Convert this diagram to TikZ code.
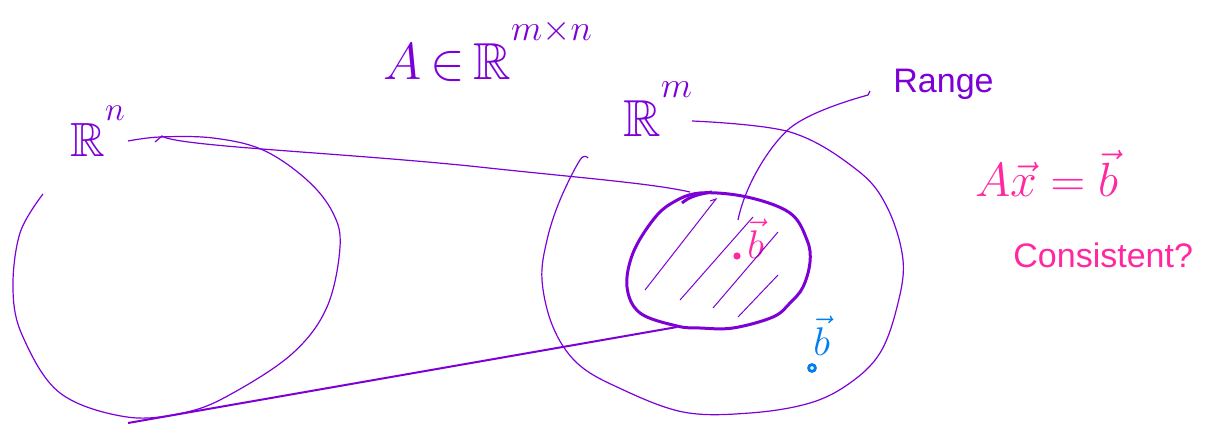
\documentclass[tikz,border=0pt]{standalone}
\usepackage{fix-cm}
\usepackage{amssymb}
\usepackage{fontspec}
\setmainfont{Liberation Sans}
\definecolor{inkpurple}{RGB}{125,0,215}
\definecolor{inkpink}{RGB}{255,40,160}
\definecolor{inkblue}{RGB}{0,125,240}
\newcommand{\raisedexp}[1]{^{\raisebox{0.4em}{$\scriptstyle #1$}}}
\begin{document}
\begin{tikzpicture}[
x=0.5pt, y=-0.5pt,
thin line/.style={draw=inkpurple, line width=0.6pt},
thick line/.style={draw=inkpurple, line width=1pt},
blob line/.style={draw=inkpurple, line width=1.5pt},
hatch/.style={draw=inkpurple, line width=0.5pt},
lbl/.style={inner sep=0pt, anchor=base west, text=inkpurple},
pinklbl/.style={lbl, text=inkpink},
bluelbl/.style={lbl, text=inkblue}
]
\useasboundingbox (0,0) rectangle (1209,427);

\node (arm)[lbl, font=\fontsize{26}{30}\selectfont] at (383,80) {$A\,{\in}\,\mathbb{R}\raisedexp{m\times n}$};
\node (rn)[lbl, font=\fontsize{24}{28}\selectfont] at (70,157) {$\mathbb{R}\raisedexp{n}$};
\node (rm)[lbl, font=\fontsize{26}{30}\selectfont] at (623,137) {$\mathbb{R}\raisedexp{m}$};
\node (range)[lbl, font=\fontsize{17}{20}\selectfont] at (893,93) {Range};
\node (axb)[pinklbl, font=\fontsize{24}{28}\selectfont] at (975,197) {$A\vec{x}=\vec{b}$};
\node (cons)[pinklbl, font=\fontsize{17}{20}\selectfont] at (1013,267) {Consistent?};
\node (bin)[pinklbl, font=\fontsize{20}{24}\selectfont] at (747,258) {$\vec{b}$};
\node (bout)[bluelbl, font=\fontsize{20}{24}\selectfont] at (813,355) {$\vec{b}$};

\coordinate (nhook) at (162,136);
\coordinate (nbot) at (128,423);
\coordinate (blobtl) at (690,192);
\coordinate (blobbl) at (677,327);
\coordinate (rangetip) at (738,220);

\draw[thin line] plot[smooth, tension=0.6] coordinates {(43,194) (20,233) (13,290) (23,337) (60,393) (127,417) (187,412) (233,393) (293,353) (327,307) (340,247) (333,213) (307,180) (263,150) (213,138) (160,137) (128,141)};
\draw[thin line] plot[smooth, tension=0.6] coordinates {(692,121) (790,132) (857,170) (887,207) (903,260) (897,307) (880,353) (850,383) (810,403) (750,413) (683,412) (617,387) (577,363) (553,327) (542,280) (547,240) (560,200) (580,160) (588,158)};

\draw[blob line] plot[smooth cycle, tension=0.6] coordinates {(700,193) (747,197) (790,213) (807,240) (810,262) (803,287) (790,303) (773,317) (733,328) (700,328) (677,326) (640,313) (627,287) (633,253) (653,220) (672,203)};
\draw[blob line] (682,203) .. controls (690,196) and (700,194) .. (712,192);
\draw[hatch] (710,201) -- (716,199) -- (645,290);
\draw[hatch] (753,217) -- (680,300);
\draw[hatch] (778,232) -- (713,308);
\draw[hatch] (778,275) -- (738,317);

\draw[thin line] (155,142) -- (nhook) .. controls (175,146) and (330,152) .. (470,166) .. controls (580,178) and (650,183) .. (blobtl);
\draw[thick line] (nbot) -- (blobbl);
\draw[thin line] ([shift={(-11.5pt,-3pt)}]range.west) -- (868,95) .. controls (850,100) and (810,112) .. (790,128) .. controls (770,145) and (745,185) .. (rangetip);

\fill[inkpink] (737,256) circle[radius=1.8pt];
\draw[inkblue, line width=1.4pt] (812,368) circle[radius=1.7pt];
\end{tikzpicture}
\end{document}
